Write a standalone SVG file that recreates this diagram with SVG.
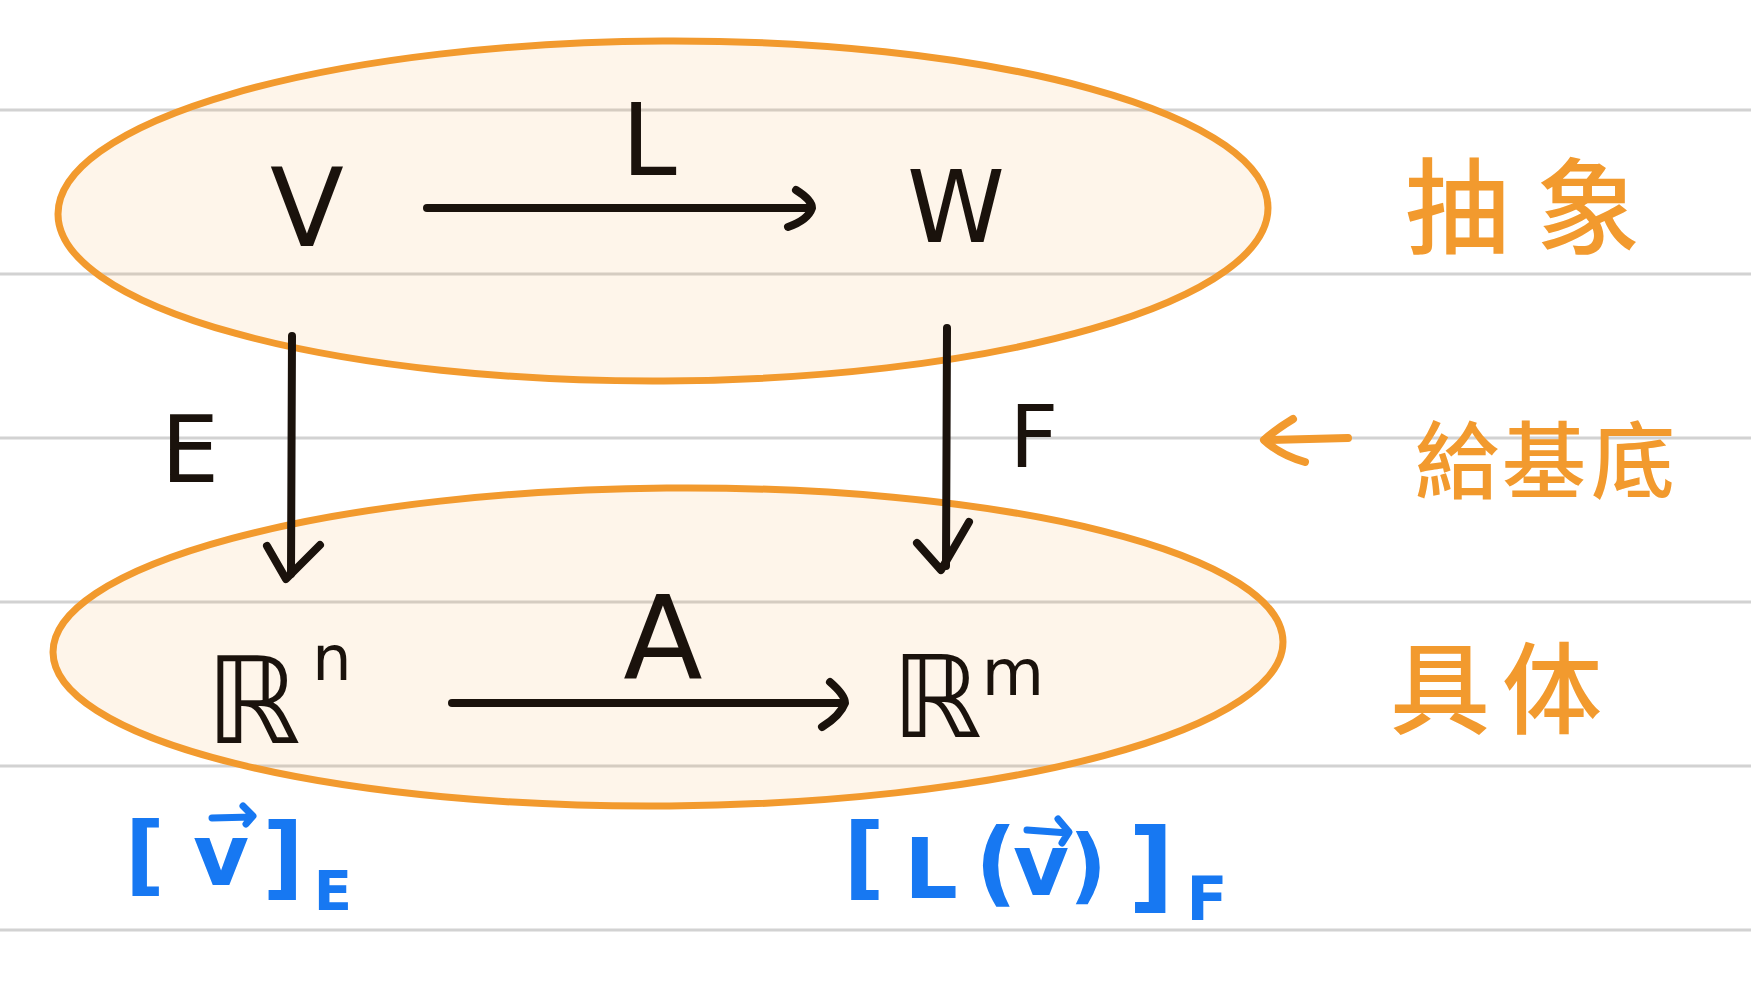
<svg xmlns="http://www.w3.org/2000/svg" width="1751" height="1000" viewBox="0 0 1751 1000">
<style>
.rule{stroke:#d2d2d2;stroke-width:3}
.blob{fill:#f29a2e;fill-opacity:0.1;stroke:#f29a2e;stroke-width:7}
.ink{fill:none;stroke:#1a120c;stroke-width:8;stroke-linecap:round;stroke-linejoin:round}
.oink{fill:none;stroke:#f29a2e;stroke-width:8;stroke-linecap:round;stroke-linejoin:round}
.bink{fill:none;stroke:#1778f2;stroke-width:7;stroke-linecap:round;stroke-linejoin:round}
.t{font-family:"DejaVu Sans","Liberation Sans",sans-serif;fill:#1a120c;text-anchor:middle}
.b{font-family:"DejaVu Sans","Liberation Sans",sans-serif;fill:#1778f2;font-weight:700;text-anchor:middle}
.c{font-family:"Noto Sans CJK TC","Noto Sans CJK SC",sans-serif;fill:#f29a2e;font-weight:500;text-anchor:middle}
</style>
<rect width="1751" height="1000" fill="#ffffff"/>
<g id="rules">
<line class="rule" x1="0" y1="110" x2="1751" y2="110"/>
<line class="rule" x1="0" y1="274" x2="1751" y2="274"/>
<line class="rule" x1="0" y1="438" x2="1751" y2="438"/>
<line class="rule" x1="0" y1="602" x2="1751" y2="602"/>
<line class="rule" x1="0" y1="766" x2="1751" y2="766"/>
<line class="rule" x1="0" y1="930" x2="1751" y2="930"/>
</g>
<g id="abstract-layer">
<ellipse class="blob" cx="663" cy="211" rx="605" ry="170" transform="rotate(-0.3 663 211)"/>
</g>
<g id="concrete-layer">
<ellipse class="blob" cx="668" cy="647" rx="615" ry="159" transform="rotate(-0.5 668 647)"/>
</g>
<g id="connectors">
<path class="ink" d="M427 208 L810 208"/>
<path class="ink" d="M796 190 Q812 200 812 208 Q808 220 788 227"/>
<path class="ink" d="M292 336 L291 574"/>
<path class="ink" d="M267 546 L286 579 L320 545"/>
<path class="ink" d="M947 328 L946 566"/>
<path class="ink" d="M917 543 L941 570 L969 522"/>
<path class="ink" d="M452 703 L842 703"/>
<path class="ink" d="M830 682 Q845 695 845 703 Q840 716 822 727"/>
<path class="oink" d="M1348 438 L1265 440"/>
<path class="oink" d="M1293 419 Q1275 430 1264 440 Q1280 455 1305 462"/>
</g>
<g id="node-V"><text class="t" x="307" y="246" font-size="108">V</text></g>
<g id="node-W"><text class="t" x="956" y="242" font-size="99">W</text></g>
<g id="label-L"><text class="t" x="649" y="175" font-size="99">L</text></g>
<g id="label-E"><text class="t" x="190" y="482" font-size="92">E</text></g>
<g id="label-F"><text class="t" x="1034" y="467" font-size="85">F</text></g>
<g id="label-A"><text class="t" x="663" y="679" font-size="116">A</text></g>
<g id="node-Rn"><text class="t"><tspan x="253" y="743" font-size="120">ℝ</tspan><tspan x="332" y="680" font-size="62">n</tspan></text></g>
<g id="node-Rm"><text class="t"><tspan x="937" y="737" font-size="114">ℝ</tspan><tspan x="1013" y="695" font-size="64">m</tspan></text></g>
<g id="coord-v">
<text class="b"><tspan x="145" y="884" font-size="87">[</tspan><tspan x="221" y="885" font-size="86">v</tspan><tspan x="283" y="888" font-size="90">]</tspan><tspan x="333" y="910" font-size="56">E</tspan></text>
<path class="bink" d="M212 818 L252 817 M243 806 L253 816 L246 824"/>
</g>
<g id="coord-Lv">
<text class="b"><tspan x="864" y="888" font-size="90">[</tspan><tspan x="931" y="898" font-size="84">L</tspan><tspan x="996" y="895" font-size="92">(</tspan><tspan x="1041" y="895" font-size="86">v</tspan><tspan x="1088" y="893" font-size="82">)</tspan><tspan x="1151" y="900" font-size="100">]</tspan><tspan x="1207" y="920" font-size="60">F</tspan></text>
<path class="bink" d="M1027 830 L1068 833 M1058 819 L1069 832 L1062 843"/>
</g>
<g id="tag-abstract"><text class="c" font-size="104"><tspan x="1457" y="246">抽</tspan><tspan x="1588" y="246">象</tspan></text></g>
<g id="tag-basis"><text class="c" font-size="84"><tspan x="1457" y="492">給</tspan><tspan x="1544" y="492">基</tspan><tspan x="1633" y="492">底</tspan></text></g>
<g id="tag-concrete"><text class="c" font-size="100"><tspan x="1440" y="726">具</tspan><tspan x="1552" y="726">体</tspan></text></g>
</svg>
